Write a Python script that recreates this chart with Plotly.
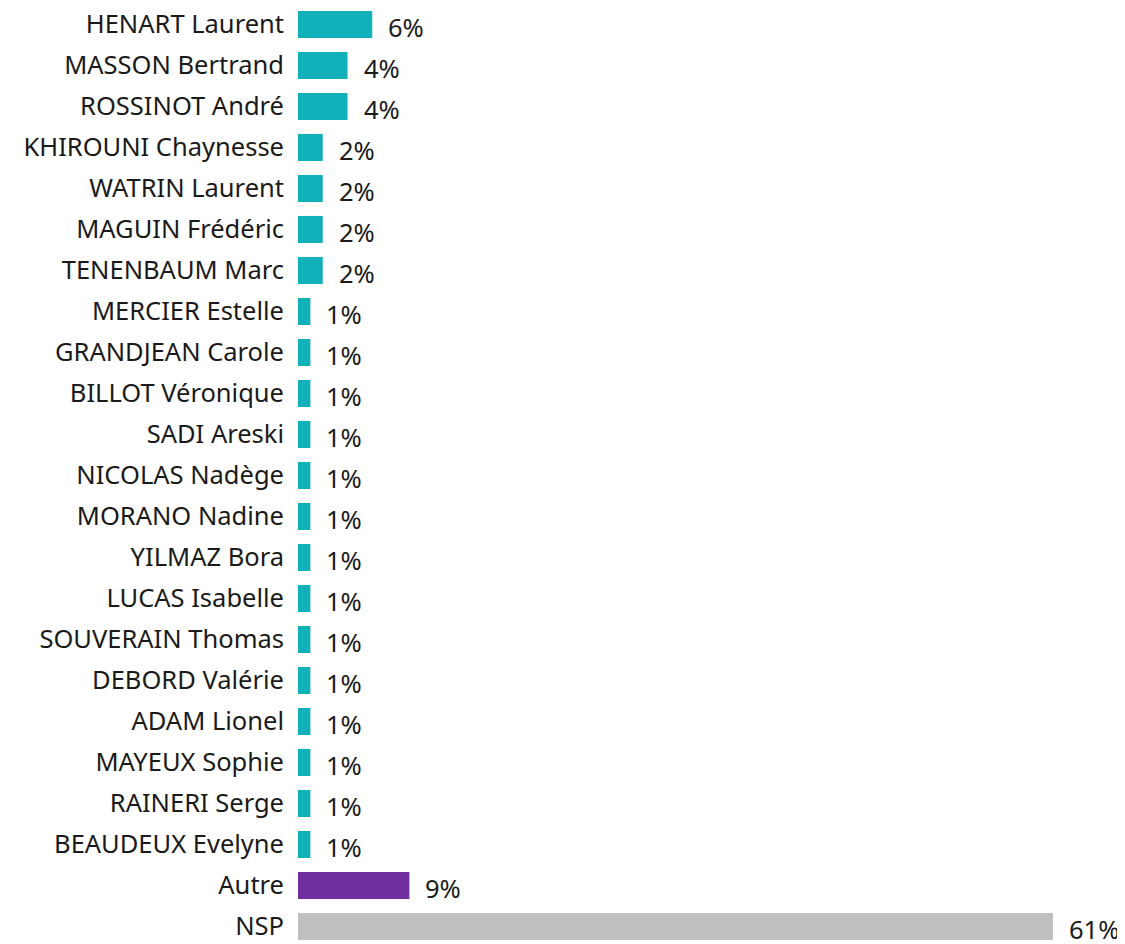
import plotly.graph_objects as go

names = ["HENART Laurent", "MASSON Bertrand", "ROSSINOT André", "KHIROUNI Chaynesse",
         "WATRIN Laurent", "MAGUIN Frédéric", "TENENBAUM Marc", "MERCIER Estelle",
         "GRANDJEAN Carole", "BILLOT Véronique", "SADI Areski", "NICOLAS Nadège",
         "MORANO Nadine", "YILMAZ Bora", "LUCAS Isabelle", "SOUVERAIN Thomas",
         "DEBORD Valérie", "ADAM Lionel", "MAYEUX Sophie", "RAINERI Serge",
         "BEAUDEUX Evelyne", "Autre", "NSP"]
values = [6, 4, 4, 2, 2, 2, 2, 1, 1, 1, 1, 1, 1, 1, 1, 1, 1, 1, 1, 1, 1, 9, 61]
labels = ["6%", "4%", "4%", "2%", "2%", "2%", "2%", "1%", "1%", "1%", "1%", "1%",
          "1%", "1%", "1%", "1%", "1%", "1%", "1%", "1%", "1%", "9%", "61%"]

TEAL = "#12B0B8"
colors = [TEAL] * 21 + ["#7030A0", "#BFBFBF"]

FONT = "Noto Sans"
FS = 25.5
TXT = "#1a1a1a"

fig = go.Figure()
fig.add_trace(go.Bar(
    x=values, y=names, orientation="h",
    marker=dict(color=colors, line=dict(width=0)),
    hoverinfo="skip",
))
for v, n, t in zip(values, names, labels):
    fig.add_annotation(x=v, y=n, text=t, showarrow=False, xanchor="left",
                       yanchor="middle", xshift=14, yshift=-2.5,
                       font=dict(family=FONT, size=FS, color=TXT))

fig.update_layout(
    width=1117, height=936,
    margin=dict(l=290, r=0, t=0, b=0, autoexpand=False),
    paper_bgcolor="white", plot_bgcolor="white",
    showlegend=False,
    bargap=0.34,
    font=dict(family=FONT, size=FS, color=TXT),
    xaxis=dict(range=[0, 66.82], visible=False, fixedrange=True),
    yaxis=dict(categoryorder="array", categoryarray=names,
               range=[22.427, -0.402], showgrid=False, zeroline=False,
               showline=False, ticks="", ticklabelstandoff=13, automargin=False,
               tickfont=dict(family=FONT, size=FS, color=TXT)),
)
fig.write_html("out.html")
